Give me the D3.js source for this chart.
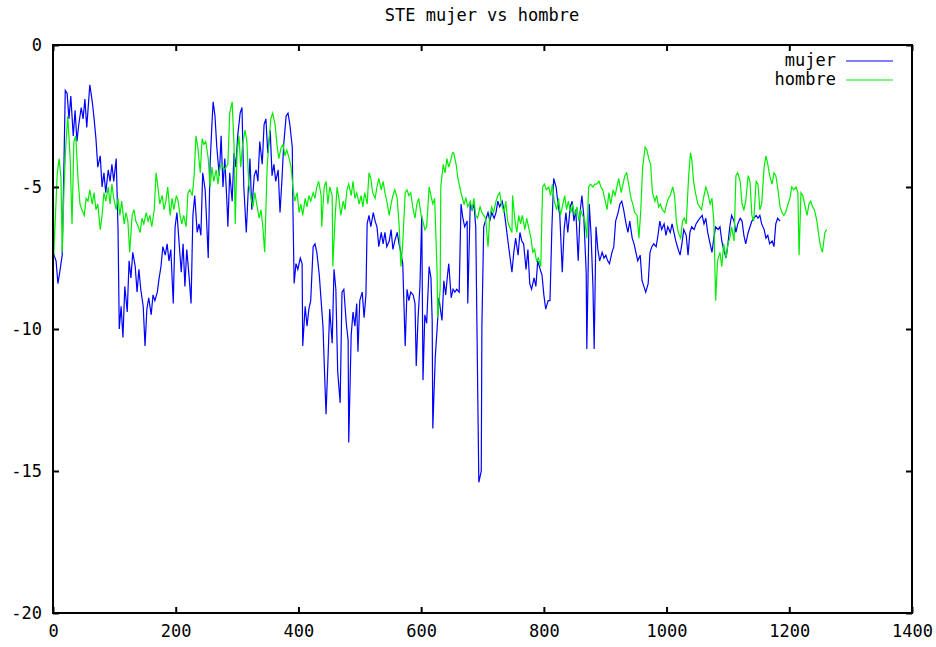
<!DOCTYPE html>
<html><head><meta charset="utf-8">
<script src="https://cdnjs.cloudflare.com/ajax/libs/d3/7.8.5/d3.min.js"></script>
<style>
body{margin:0;background:#fff;}
text{font-family:"DejaVu Sans Mono","Liberation Mono",monospace;font-size:17px;fill:#000;}
</style></head><body>
<svg id="c" width="936" height="647"></svg>
<script>
const title = "STE mujer vs hombre";
const seriesNames = ["mujer", "hombre"];
const xTicks = [0,200,400,600,800,1000,1200,1400];
const yTicks = [0,-5,-10,-15,-20];

const mujerX = [0,5,8,11,15,18,20,23,26,29,33,36,39,42,46,49,52,55,59,60,64,67,70,73,77,80,83,86,90,93,96,99,103,106,108,111,114,117,121,124,127,130,134,137,140,143,147,150,153,156,160,163,166,170,173,176,179,183,186,189,192,196,199,202,205,209,212,215,218,222,225,228,231,235,238,241,244,248,251,253,256,259,261,264,267,271,274,277,280,284,285,288,292,295,298,301,305,308,311,315,318,321,324,328,331,334,337,341,344,347,350,354,357,360,363,367,370,373,376,380,383,386,390,391,393,396,399,403,406,407,411,414,417,420,424,427,430,434,437,440,443,445,448,451,455,458,461,464,468,471,474,478,481,482,486,489,492,495,497,500,504,507,510,512,515,518,522,525,528,531,535,538,541,544,548,551,554,557,561,564,567,570,574,577,580,583,587,590,592,595,598,601,603,606,609,613,616,618,619,623,626,629,632,634,637,640,643,645,649,652,655,658,662,665,668,671,675,676,680,683,686,689,691,694,698,699,702,706,709,712,715,719,722,725,728,732,735,738,742,745,748,751,754,758,761,764,767,771,774,777,780,784,787,790,794,797,800,803,807,810,813,816,820,823,826,830,833,836,839,843,846,849,852,856,859,862,865,869,870,874,877,880,882,885,888,891,895,898,901,904,907,911,914,917,921,924,927,930,934,937,940,944,947,950,953,957,960,963,966,970,973,976,979,983,986,989,992,996,999,1002,1006,1009,1012,1015,1019,1022,1025,1028,1032,1035,1038,1041,1045,1048,1051,1054,1058,1061,1064,1067,1071,1074,1077,1080,1084,1087,1090,1093,1097,1100,1103,1106,1110,1113,1116,1120,1123,1126,1129,1133,1136,1139,1142,1146,1149,1152,1155,1159,1162,1165,1168,1172,1175,1178,1181,1185,1188];
const mujerY = [-7.3,-7.6,-8.4,-8.0,-7.4,-4.0,-1.6,-1.7,-2.6,-1.8,-3.2,-2.3,-3.4,-2.8,-2.2,-2.6,-1.9,-2.9,-1.7,-1.4,-2.0,-2.6,-3.3,-4.3,-3.9,-5.0,-4.5,-5.2,-4.4,-4.8,-4.2,-4.8,-4.0,-6.5,-10.0,-9.2,-10.3,-8.5,-9.4,-7.6,-8.2,-7.3,-7.8,-8.7,-7.9,-8.6,-9.2,-10.6,-9.3,-8.9,-9.5,-8.8,-9.0,-8.7,-8.2,-7.8,-7.1,-7.4,-7.0,-7.6,-7.2,-9.1,-6.4,-5.9,-6.8,-8.0,-7.0,-8.5,-7.2,-8.2,-9.1,-6.0,-5.3,-6.6,-6.3,-6.7,-4.5,-5.1,-6.5,-7.5,-4.2,-2.8,-2.0,-2.5,-3.6,-4.6,-3.2,-5.0,-4.0,-5.8,-6.4,-4.5,-5.5,-3.8,-4.3,-3.2,-2.4,-2.2,-5.0,-6.6,-5.2,-4.0,-5.8,-4.6,-4.4,-4.8,-3.4,-4.2,-2.8,-2.6,-3.8,-3.0,-4.6,-4.2,-4.8,-4.4,-5.9,-4.8,-3.5,-2.5,-2.4,-2.8,-3.6,-5.7,-8.4,-7.7,-7.9,-7.5,-7.7,-10.6,-9.2,-9.9,-9.3,-9.0,-7.1,-7.0,-7.3,-8.1,-9.0,-9.9,-11.8,-13.0,-11.2,-9.3,-10.5,-7.9,-8.6,-11.5,-12.6,-8.7,-8.6,-9.8,-10.4,-14.0,-10.2,-9.4,-9.9,-9.1,-10.8,-9.0,-8.7,-9.6,-8.8,-6.3,-6.0,-6.4,-5.9,-6.2,-6.4,-7.1,-6.6,-7.0,-6.6,-7.1,-6.9,-6.5,-7.2,-6.9,-6.6,-7.0,-7.3,-7.7,-10.6,-8.6,-9.0,-8.7,-8.8,-9.1,-11.3,-9.6,-8.5,-6.0,-11.8,-9.5,-9.8,-7.8,-8.2,-9.7,-13.5,-11.0,-10.0,-8.9,-9.4,-9.7,-8.3,-8.8,-8.1,-7.7,-8.9,-8.6,-8.7,-8.6,-8.7,-5.6,-6.1,-6.4,-6.2,-9.1,-5.6,-5.8,-5.6,-6.4,-10.0,-15.4,-15.0,-9.9,-6.4,-6.1,-5.9,-6.2,-5.9,-6.1,-5.9,-5.5,-5.7,-5.5,-5.8,-6.3,-7.0,-7.5,-8.0,-7.3,-6.8,-7.4,-6.6,-6.9,-7.0,-7.9,-7.2,-8.4,-8.6,-8.2,-8.5,-7.6,-7.9,-8.1,-8.8,-9.3,-9.0,-9.0,-6.5,-4.7,-5.0,-5.6,-6.0,-8.0,-6.5,-5.9,-6.6,-5.7,-5.5,-6.2,-5.8,-7.6,-5.9,-5.3,-6.0,-8.0,-10.7,-5.6,-6.7,-8.5,-10.7,-6.4,-7.2,-7.6,-7.3,-7.5,-7.4,-7.6,-7.7,-7.3,-7.1,-6.2,-5.9,-5.6,-5.5,-5.8,-6.3,-6.6,-6.2,-6.8,-7.0,-7.3,-7.6,-7.4,-8.3,-8.5,-8.7,-8.4,-7.3,-7.1,-7.0,-7.1,-6.7,-6.2,-6.5,-6.3,-6.7,-6.4,-6.6,-6.3,-6.6,-6.9,-7.2,-7.4,-7.0,-6.5,-6.7,-7.4,-6.6,-6.4,-6.5,-6.3,-6.2,-6.1,-6.0,-6.3,-6.1,-6.6,-7.0,-7.3,-6.8,-6.4,-6.5,-6.4,-6.9,-7.2,-7.5,-7.0,-6.4,-6.0,-6.2,-6.6,-6.3,-6.1,-6.2,-6.7,-7.0,-6.6,-6.4,-6.2,-6.1,-6.0,-6.1,-6.0,-6.3,-6.5,-6.8,-6.7,-7.0,-6.9,-7.1,-6.3,-6.1,-6.2];

const hombreX = [0,1,3,7,10,13,15,18,21,24,28,31,34,37,41,44,47,51,54,57,60,64,67,70,73,77,80,83,86,90,93,96,99,103,106,109,112,116,119,122,125,129,132,135,139,142,145,148,152,155,158,161,165,168,171,174,178,181,184,187,191,194,197,201,204,207,210,213,217,220,223,227,230,233,236,240,243,246,249,253,256,259,262,266,269,272,275,279,282,285,288,292,295,297,300,303,306,309,313,316,319,323,326,329,332,336,339,342,345,349,352,355,358,362,365,368,372,375,378,381,385,388,391,394,398,401,404,407,411,414,417,420,424,427,430,433,437,438,442,445,448,451,455,456,460,463,466,469,473,476,479,482,486,489,492,495,499,502,505,508,512,515,518,521,525,528,531,535,538,541,544,548,551,554,557,561,564,567,570,574,577,580,583,587,590,593,596,600,603,606,609,613,616,619,622,626,627,631,632,636,639,642,645,649,651,653,657,660,663,666,670,673,676,680,683,686,689,692,696,699,702,705,709,712,715,718,722,725,728,731,735,738,741,744,748,749,753,756,759,762,765,769,772,775,779,782,785,788,791,795,798,801,804,808,811,814,817,821,824,827,831,834,837,840,844,847,850,854,857,860,863,867,870,873,876,880,883,886,890,893,896,900,903,906,909,913,916,919,922,926,929,932,935,939,942,945,948,952,955,958,961,965,968,971,974,977,981,984,987,990,993,997,1000,1003,1006,1010,1013,1016,1019,1023,1026,1029,1032,1036,1039,1041,1044,1047,1051,1054,1057,1061,1064,1067,1071,1074,1077,1080,1083,1087,1090,1093,1097,1100,1103,1106,1110,1113,1116,1120,1123,1126,1129,1133,1136,1139,1142,1146,1149,1152,1155,1159,1162,1165,1168,1172,1175,1178,1181,1185,1188,1191,1194,1198,1201,1204,1207,1211,1214,1216,1219,1222,1225,1229,1232,1235,1238,1241,1245,1248,1251,1254,1258,1261];
const hombreY = [0,-7.5,-6.5,-4.5,-4.0,-4.7,-7.3,-5.0,-3.5,-2.5,-4.0,-6.3,-3.4,-3.2,-4.8,-5.6,-5.8,-6.0,-5.4,-5.5,-5.1,-5.6,-5.2,-5.8,-5.6,-6.5,-6.0,-5.2,-5.5,-5.0,-5.6,-4.9,-5.4,-5.8,-5.4,-6.0,-5.5,-6.3,-5.9,-6.2,-7.3,-6.0,-5.8,-6.2,-6.4,-6.6,-6.1,-6.3,-5.9,-6.2,-6.0,-6.4,-5.8,-4.5,-5.0,-5.6,-5.3,-5.8,-5.5,-5.0,-6.0,-5.4,-5.8,-5.3,-5.5,-6.0,-6.3,-6.0,-6.4,-5.2,-5.1,-5.3,-4.6,-3.2,-3.6,-4.5,-3.3,-3.5,-3.4,-4.0,-5.0,-4.3,-4.8,-4.4,-4.9,-4.3,-4.2,-4.4,-4.3,-4.2,-2.4,-2.0,-3.5,-6.3,-3.8,-3.2,-4.3,-3.5,-3.0,-3.4,-4.9,-5.4,-5.7,-5.2,-5.6,-6.1,-5.8,-6.4,-7.3,-4.3,-3.4,-2.6,-2.4,-2.8,-3.5,-4.0,-3.6,-3.5,-3.9,-3.7,-4.0,-4.3,-5.0,-5.5,-5.2,-5.9,-5.6,-6.0,-5.4,-5.7,-5.3,-5.5,-5.2,-5.4,-5.0,-4.8,-5.3,-6.4,-5.0,-4.8,-5.6,-5.0,-5.3,-7.8,-6.0,-5.0,-5.4,-6.0,-5.5,-5.8,-5.1,-4.9,-5.3,-4.8,-5.4,-5.2,-5.6,-5.3,-5.7,-5.2,-5.6,-4.5,-4.7,-5.2,-5.4,-5.0,-4.7,-5.1,-4.8,-5.2,-5.5,-6.0,-5.6,-5.3,-5.1,-5.4,-6.3,-7.8,-7.0,-5.2,-5.1,-5.3,-5.2,-5.8,-6.1,-5.6,-5.4,-6.0,-6.2,-6.5,-6.4,-5.0,-5.3,-5.6,-5.4,-8.0,-9.6,-8.6,-5.0,-4.2,-4.5,-4.0,-4.3,-4.0,-3.8,-3.8,-4.2,-4.7,-5.0,-5.3,-5.6,-5.4,-5.7,-5.5,-5.8,-5.4,-6.0,-6.1,-5.7,-5.9,-6.0,-6.1,-7.1,-6.0,-5.7,-5.9,-5.5,-5.3,-5.2,-5.6,-5.9,-5.5,-6.2,-6.4,-6.6,-5.3,-6.2,-6.6,-6.0,-6.3,-6.0,-6.5,-6.1,-6.4,-6.8,-7.3,-7.2,-7.6,-7.5,-7.8,-5.0,-4.9,-5.1,-5.0,-5.3,-4.9,-5.5,-5.8,-5.4,-6.0,-5.6,-5.3,-5.8,-5.5,-5.9,-5.6,-6.0,-5.7,-6.2,-5.8,-6.0,-6.2,-6.8,-5.0,-4.9,-5.0,-4.9,-4.9,-4.8,-5.0,-5.1,-5.5,-5.8,-5.2,-5.6,-5.1,-5.3,-5.0,-4.7,-5.2,-4.9,-4.6,-4.5,-5.0,-5.4,-5.6,-5.9,-6.0,-6.8,-5.8,-4.3,-3.6,-3.7,-4.0,-4.2,-5.2,-5.5,-5.3,-5.7,-5.6,-5.8,-5.9,-5.6,-5.4,-5.3,-5.0,-5.3,-6.2,-6.6,-6.8,-6.2,-6.1,-6.3,-4.6,-3.8,-4.0,-4.8,-5.2,-5.6,-5.7,-5.8,-5.3,-5.0,-5.2,-5.6,-5.4,-6.2,-9.0,-7.6,-7.3,-7.8,-7.0,-7.5,-7.0,-6.8,-6.4,-6.9,-4.6,-4.5,-4.8,-5.6,-5.8,-5.5,-4.6,-4.8,-6.0,-6.2,-4.8,-4.9,-5.8,-5.6,-4.3,-3.9,-4.2,-4.6,-4.9,-4.5,-4.6,-5.0,-5.7,-5.9,-6.0,-5.9,-5.6,-5.4,-5.0,-5.1,-5.0,-5.2,-7.4,-5.2,-5.3,-5.6,-6.0,-5.6,-5.5,-5.7,-5.8,-6.2,-6.7,-7.1,-7.3,-6.6,-6.5];

const colors = ["#0000ff", "#00ee00"];

const svg = d3.select("#c");
const L = 53, R = 912, T = 45, B = 613;
const x = d3.scaleLinear().domain([0,1400]).range([L,R]);
const y = d3.scaleLinear().domain([-20,0]).range([B,T]);

svg.append("text").attr("x", 482).attr("y", 21).attr("text-anchor","middle").text(title);

const series = [
  mujerX.map((v,i)=>[v, mujerY[i]]),
  hombreX.map((v,i)=>[v, hombreY[i]])
];
const line = d3.line().x(d=>x(d[0])).y(d=>y(d[1]));
series.forEach((s,i)=>{
  svg.append("path").datum(s).attr("d", line).attr("fill","none")
    .attr("stroke", colors[i]).attr("stroke-width", 1.2);
});

const ax = svg.append("g");
ax.append("g").attr("transform",`translate(0,${B})`)
  .call(d3.axisBottom(x).tickValues(xTicks).tickSize(-6).tickPadding(12).tickFormat(d3.format("d")));
ax.append("g").attr("transform",`translate(0,${T})`)
  .call(d3.axisTop(x).tickValues(xTicks).tickSize(-6).tickFormat(""));
ax.append("g").attr("transform",`translate(${L},0)`)
  .call(d3.axisLeft(y).tickValues(yTicks).tickSize(-6).tickPadding(11).tickFormat(d=>String(d).replace("\u2212","-")));
ax.append("g").attr("transform",`translate(${R},0)`)
  .call(d3.axisRight(y).tickValues(yTicks).tickSize(-6).tickFormat(""));
ax.selectAll(".domain").remove();
ax.selectAll(".tick line").attr("stroke","#000").attr("stroke-width",2);
ax.selectAll("text").attr("font-family",null).attr("font-size",null).attr("fill","#000");
svg.append("rect").attr("x",L).attr("y",T).attr("width",R-L).attr("height",B-T)
  .attr("fill","none").attr("stroke","#000").attr("stroke-width",2);

seriesNames.forEach((n,i)=>{
  const yy = 66 + i*19;
  svg.append("text").attr("x",836).attr("y",yy).attr("text-anchor","end").text(n);
  svg.append("line").attr("x1",846).attr("x2",893).attr("y1",yy-5).attr("y2",yy-5)
    .attr("stroke",colors[i]).attr("stroke-width",1.2);
});
</script></body></html>
